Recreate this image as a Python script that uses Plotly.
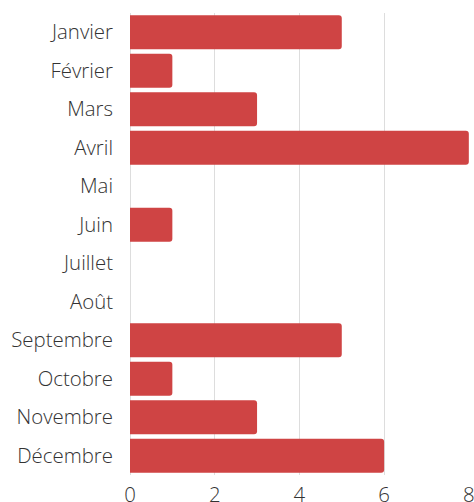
import plotly.graph_objects as go

months = ["Janvier", "Février", "Mars", "Avril", "Mai", "Juin", "Juillet",
          "Août", "Septembre", "Octobre", "Novembre", "Décembre"]
counts = [5, 1, 3, 8, 0, 1, 0, 0, 5, 1, 3, 6]
x_ticks = [0, 2, 4, 6, 8]

fig = go.Figure(go.Bar(
    x=counts,
    y=months,
    orientation="h",
    marker=dict(color="#cf4444", cornerradius=3, line=dict(width=0)),
    hoverinfo="x+y",
))

fig.update_layout(
    width=474,
    height=502,
    margin=dict(l=130, r=5, t=13, b=27),
    paper_bgcolor="white",
    plot_bgcolor="white",
    bargap=0.12,
    showlegend=False,
    font=dict(family="Open Sans", size=20.4, color="#333333", weight=300),
    xaxis=dict(
        range=[0, 8.004],
        tickvals=x_ticks,
        showgrid=True,
        gridcolor="#dddddd",
        gridwidth=1,
        zeroline=True,
        zerolinecolor="#dddddd",
        zerolinewidth=1,
        ticks="",
        ticklabelstandoff=6,
        ticklabeloverflow="allow",
        automargin=False,
        fixedrange=True,
    ),
    yaxis=dict(
        categoryorder="array",
        categoryarray=months,
        autorange="reversed",
        showgrid=False,
        ticks="",
        ticklabelstandoff=16,
        automargin=False,
        fixedrange=True,
    ),
)

fig.write_html("out.html")
